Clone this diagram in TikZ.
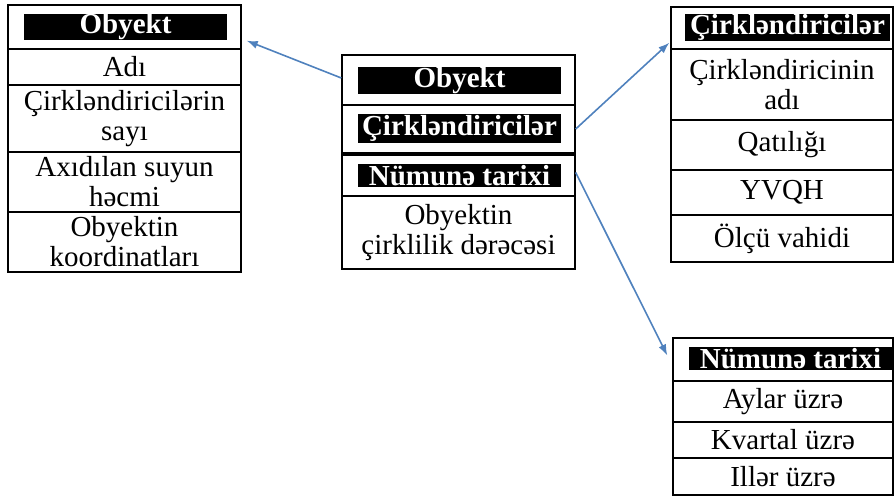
\documentclass[tikz,border=0pt]{standalone}
\usepackage{fontspec}
\setmainfont{Liberation Serif}
\usetikzlibrary{arrows.meta}
\definecolor{linkblue}{RGB}{79,129,189}

\begin{document}
\begin{tikzpicture}[x=1pt,y=-1pt]
		
		\tikzset{cell/.style = {shape=rectangle,draw,line width=1.4pt,inner sep=0pt,align=center,font=\fontsize{29}{30}\selectfont}}
		\tikzset{bar/.style = {shape=rectangle,fill=black,text=white,inner sep=0pt,font=\fontsize{29}{30}\selectfont\bfseries}}
		\tikzset{edge/.style = {-{Latex[length=11pt,width=8pt]},linkblue,line width=1.6pt}}
		\useasboundingbox (0,0) rectangle (896,496);
		% left table
		\node[cell,minimum width=233pt,minimum height=44pt] (l0) at (124.5,27) {};
		\node[cell,minimum width=233pt,minimum height=36pt] (l1) at (124.5,67) {Adı};
		\node[cell,minimum width=233pt,minimum height=67pt] (l2) at (124.5,118.5) {Çirkləndiricilərin\\sayı};
		\node[cell,minimum width=233pt,minimum height=60pt] (l3) at (124.5,182) {Axıdılan suyun\\həcmi};
		\node[cell,minimum width=233pt,minimum height=60pt] (l4) at (124.5,242) {Obyektin\\koordinatları};
		\node[bar,minimum width=203pt,minimum height=24pt] (lb) at (125.5,27) {Obyekt};
		% middle table
		\node[cell,minimum width=233pt,minimum height=50pt] (m0) at (458.5,80) {};
		\node[cell,minimum width=233pt,minimum height=48pt] (m1) at (458.5,129) {};
		\node[cell,minimum width=233pt,minimum height=41pt] (m2) at (458.5,175.5) {};
		\node[cell,minimum width=233pt,minimum height=73pt] (m3) at (458.5,232.5) {Obyektin\\çirklilik dərəcəsi};
		\node[bar,minimum width=203pt,minimum height=25pt] (mb0) at (459.5,80.5) {Obyekt};
		\node[bar,minimum width=203pt,minimum height=29pt] (mb1) at (459.5,128.5) {Çirkləndiricilər};
		\node[bar,minimum width=203pt,minimum height=23pt] (mb2) at (459.5,175.5) {Nümunə tarixi};
		% right table
		\node[cell,minimum width=222pt,minimum height=42pt] (r0) at (782,28) {};
		\node[cell,minimum width=222pt,minimum height=71pt] (r1) at (782,84.5) {Çirkləndiricinin\\adı};
		\node[cell,minimum width=222pt,minimum height=50pt] (r2) at (782,145) {Qatılığı};
		\node[cell,minimum width=222pt,minimum height=45pt] (r3) at (782,192.5) {YVQH};
		\node[cell,minimum width=222pt,minimum height=47pt] (r4) at (782,238.5) {Ölçü vahidi};
		\node[bar,minimum width=205pt,minimum height=25pt] (rb) at (787.5,27.5) {Çirkləndiricilər};
		% bottom table
		\node[cell,minimum width=220pt,minimum height=43pt] (b0) at (783,359.5) {};
		\node[cell,minimum width=220pt,minimum height=41pt] (b1) at (783,401.5) {Aylar üzrə};
		\node[cell,minimum width=220pt,minimum height=36pt] (b2) at (783,440) {Kvartal üzrə};
		\node[cell,minimum width=220pt,minimum height=37pt] (b3) at (783,476.5) {Illər üzrə};
		\node[bar,minimum width=203pt,minimum height=23pt] (bb) at (790.5,358.5) {Nümunə tarixi};
		%edges
		\draw[edge] ([yshift=2pt]m0.west) -- ([xshift=5pt,yshift=9pt]l0.south east);
		\draw[edge] (m1.east) -- ([xshift=-1pt,yshift=7pt]r0.south west);
		\draw[edge] ([yshift=3pt]m2.east) -- ([xshift=-5pt,yshift=4pt]b0.west);
		\end{tikzpicture}
\end{document}
